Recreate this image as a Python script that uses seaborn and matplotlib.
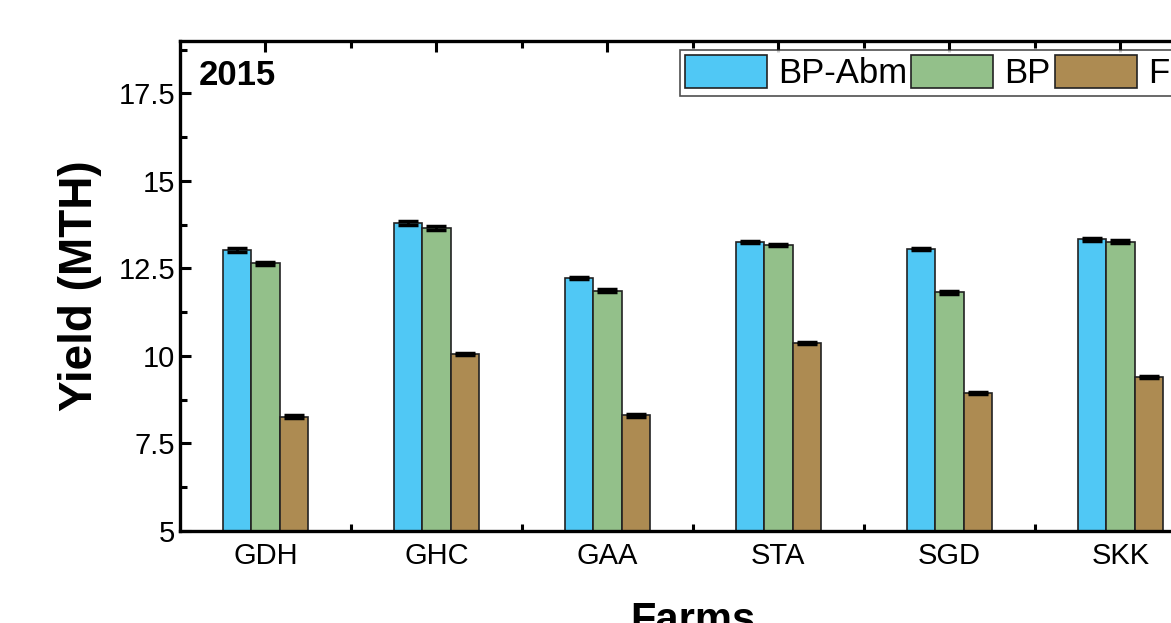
import numpy as np
import pandas as pd
import seaborn as sns
import matplotlib.pyplot as plt
from matplotlib.ticker import MultipleLocator, FixedLocator

# yield values
farms = ["GDH", "GHC", "GAA", "STA", "SGD", "SKK"]
bp_abm = [13.03, 13.80, 12.23, 13.26, 13.05, 13.33]
bp = [12.65, 13.65, 11.87, 13.17, 11.82, 13.27]
fp = [8.27, 10.06, 8.30, 10.38, 8.94, 9.39]
bp_abm_err = [0.05, 0.05, 0.04, 0.03, 0.03, 0.05]
bp_err = [0.04, 0.05, 0.04, 0.03, 0.04, 0.03]
fp_err = [0.03, 0.03, 0.03, 0.03, 0.03, 0.03]
methods = ["BP-Abm", "BP", "FP"]
colors = ["#50C8F5", "#93C08A", "#AD8B52"]

df = pd.DataFrame({
    "Farm": farms * 3,
    "Method": np.repeat(methods, len(farms)),
    "Yield": bp_abm + bp + fp,
})
errs = [bp_abm_err, bp_err, fp_err]

sns.set_style("ticks")
plt.rcParams["font.family"] = ["Liberation Sans", "DejaVu Sans"]
plt.rcParams.update({"text.color": "black", "axes.labelcolor": "black",
                     "axes.edgecolor": "black", "xtick.color": "black",
                     "ytick.color": "black"})

fig = plt.figure(figsize=(11.71, 6.23), dpi=100)
ax = fig.add_axes([0.1537, 0.1477, 0.876, 0.7865])

sns.barplot(data=df, x="Farm", y="Yield", hue="Method", order=farms,
            hue_order=methods, palette=colors, width=0.5, errorbar=None,
            edgecolor="#222222", linewidth=1.2, saturation=1, ax=ax)

for cont, e in zip(ax.containers, errs):
    xs = [p.get_x() + p.get_width() / 2 for p in cont]
    ys = [p.get_height() for p in cont]
    ax.errorbar(xs, ys, yerr=e, fmt="none", ecolor="black",
                elinewidth=2, capsize=7, capthick=2.5)

ax.set_ylim(5, 19)
ax.set_xlim(-0.5, len(farms) - 0.5)
ax.yaxis.set_major_locator(MultipleLocator(2.5))
ax.yaxis.set_minor_locator(MultipleLocator(1.25))
ax.xaxis.set_minor_locator(FixedLocator(np.arange(0.5, len(farms) - 1, 1)))
ax.set_yticks([5, 7.5, 10, 12.5, 15, 17.5], ["5", "7.5", "10", "12.5", "15", "17.5"])
ax.set_axisbelow(True)

for s in ax.spines.values():
    s.set_linewidth(2.4)
    s.set_color("black")
ax.tick_params(which="both", direction="in", top=True, right=True, width=2.2,
               color="black", labelcolor="black")
ax.tick_params(which="major", length=8, labelsize=21)
ax.tick_params(which="minor", length=5)
ax.tick_params(axis="x", pad=8)

ax.set_xlabel("Farms", fontsize=30, fontweight="bold", labelpad=22)
ax.set_ylabel("Yield (MTH)", fontsize=33, fontweight="bold", labelpad=12)
ax.text(0.018, 0.93, "2015", transform=ax.transAxes, fontsize=25,
        fontweight="bold", va="center", ha="left")

leg = ax.legend(loc="upper left", bbox_to_anchor=(0.487, 0.982), ncol=3,
                fontsize=25, frameon=True, fancybox=False, borderaxespad=0,
                handlelength=2.36, handleheight=1.1, handletextpad=0.32,
                columnspacing=0.12, borderpad=0.15)
leg.get_frame().set_edgecolor("#222222")
leg.get_frame().set_linewidth(1.2)

fig.savefig("out.png", dpi=100)
